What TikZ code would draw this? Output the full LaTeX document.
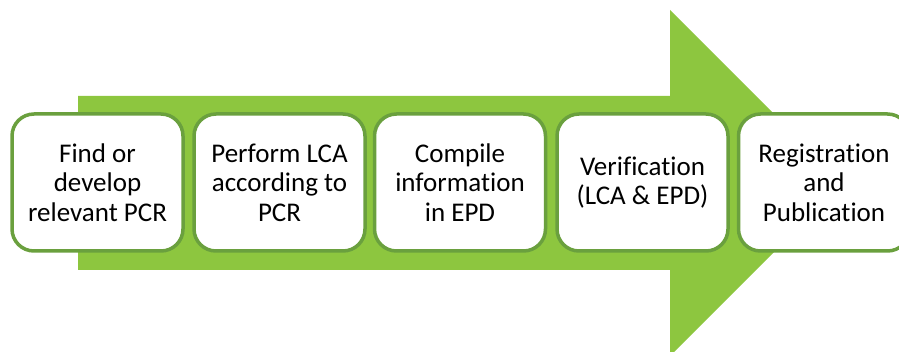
\documentclass[tikz,border=0pt]{standalone}
\usepackage{fontspec}
\setmainfont[Ligatures={NoCommon}]{Carlito}
\definecolor{arrowgreen}{RGB}{141,198,63}
\definecolor{boxgreen}{RGB}{106,160,62}
\begin{document}
\begin{tikzpicture}[x=1pt,y=-1pt,
  stepbox/.style={draw=boxgreen, line width=3.5pt, fill=white, rounded corners=22pt,
    minimum width=171pt, minimum height=137pt, align=center,
    font=\fontsize{27}{29.5}\selectfont, inner sep=0pt}]
\useasboundingbox (0,0) rectangle (899,352);
\clip (0,0) rectangle (899,352);
\fill[arrowgreen] (78,96) -- (670,96) -- (670,10) -- (843,183) -- (670,356) -- (670,270) -- (78,270) -- cycle;
\node[stepbox] (s1) at (97.5,182.5) {Find or\\develop\\relevant PCR};
\node[stepbox] (s2) at (279.5,182.5) {Perform LCA\\according to\\PCR};
\node[stepbox] (s3) at (460,182.5) {Compile\\information\\in EPD};
\node[stepbox] (s4) at (642.5,182.5) {Verification\\(LCA \& EPD)};
\node[stepbox] (s5) at (824,182.5) {Registration\\and\\Publication};
\end{tikzpicture}
\end{document}
